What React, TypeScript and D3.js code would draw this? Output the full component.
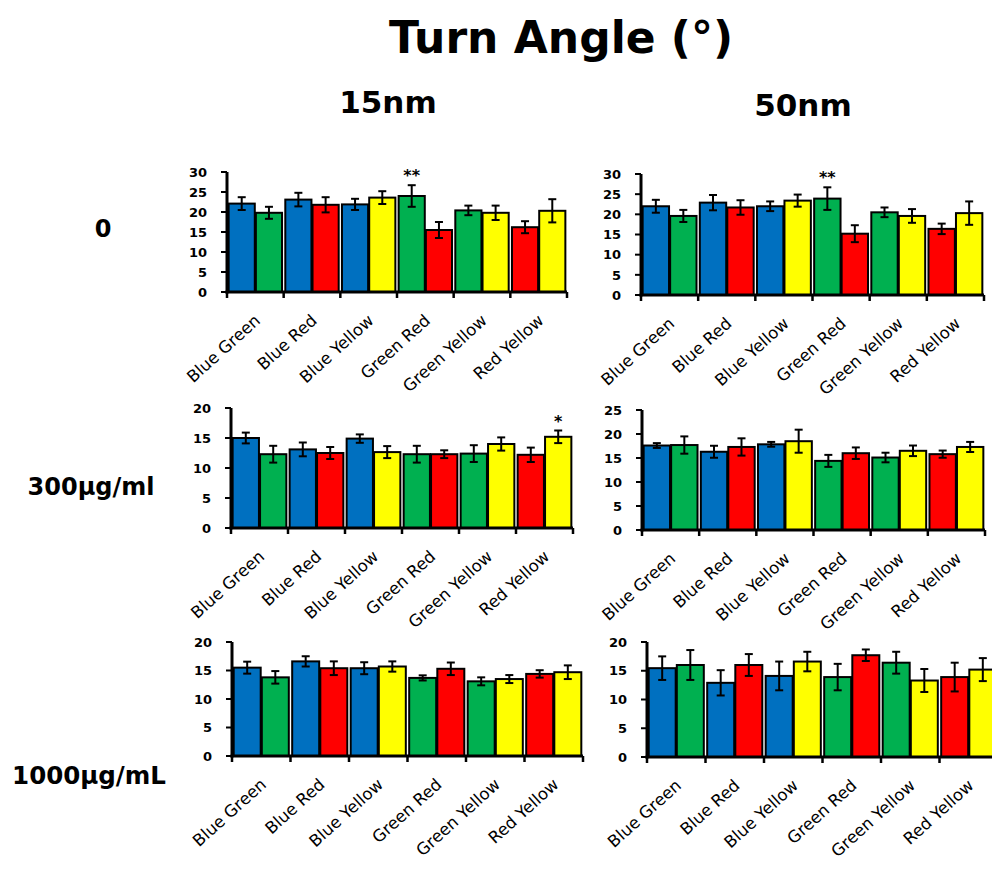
import React from "react";
import * as d3 from "d3";

const title = "Turn Angle (°)";
const columnTitles = ["15nm", "50nm"];
const rowTitles = ["0", "300µg/ml", "1000µg/mL"];
const categories = ["Blue Green", "Blue Red", "Blue Yellow", "Green Red", "Green Yellow", "Red Yellow"];

// means and SEMs, two bars per category (first colour, second colour)
const mean15_0 = [22.1, 19.8, 23.1, 21.8, 21.9, 23.6, 24.0, 15.5, 20.4, 19.8, 16.2, 20.3];
const err15_0 = [1.6, 1.5, 1.7, 1.9, 1.4, 1.6, 2.7, 2.0, 1.2, 1.8, 1.5, 2.9];
const mean50_0 = [22.0, 19.6, 22.9, 21.7, 22.0, 23.4, 23.9, 15.2, 20.5, 19.6, 16.4, 20.3];
const err50_0 = [1.6, 1.5, 1.9, 1.8, 1.2, 1.5, 2.8, 2.1, 1.2, 1.7, 1.3, 2.9];
const mean15_300 = [15.0, 12.3, 13.1, 12.5, 14.9, 12.65, 12.3, 12.3, 12.4, 14.0, 12.2, 15.2];
const err15_300 = [0.9, 1.4, 1.15, 1.0, 0.7, 1.0, 1.4, 0.65, 1.4, 1.1, 1.2, 1.05];
const mean50_300 = [17.6, 17.7, 16.3, 17.3, 17.85, 18.5, 14.4, 16.0, 15.1, 16.5, 15.8, 17.3];
const err50_300 = [0.5, 1.8, 1.25, 1.8, 0.5, 2.4, 1.25, 1.2, 1.0, 1.1, 0.75, 1.05];
const mean15_1000 = [15.5, 13.8, 16.6, 15.4, 15.4, 15.7, 13.7, 15.3, 13.1, 13.5, 14.4, 14.7];
const err15_1000 = [1.05, 1.1, 0.9, 1.2, 1.05, 0.9, 0.45, 1.1, 0.7, 0.7, 0.65, 1.2];
const mean50_1000 = [15.45, 16.0, 12.9, 16.0, 14.1, 16.6, 13.9, 17.7, 16.4, 13.3, 13.9, 15.2];
const err50_1000 = [2.05, 2.6, 2.2, 1.9, 2.5, 1.7, 2.3, 1.0, 1.9, 2.0, 2.5, 2.0];

const yMaxes = [30, 30, 20, 25, 20, 20];
const sigMarks = [
  { panel: 0, bar: 6, label: "**" },
  { panel: 1, bar: 6, label: "**" },
  { panel: 2, bar: 11, label: "*" },
];

const colorOf: Record<string, string> = {
  Blue: "#0070C0",
  Green: "#00B050",
  Red: "#FF0000",
  Yellow: "#FFFF00",
};

const panelsData = [
  { mean: mean15_0, err: err15_0 },
  { mean: mean50_0, err: err50_0 },
  { mean: mean15_300, err: err15_300 },
  { mean: mean50_300, err: err50_300 },
  { mean: mean15_1000, err: err15_1000 },
  { mean: mean50_1000, err: err50_1000 },
];

// layout (pixel frames of each panel: x0, x1, yBottom, yTop)
const frames = [
  { x0: 227, x1: 567, yb: 292, yt: 172 },
  { x0: 641, x1: 984, yb: 295, yt: 174 },
  { x0: 231, x1: 573, yb: 528, yt: 408 },
  { x0: 642, x1: 985, yb: 530, yt: 410 },
  { x0: 232, x1: 583, yb: 756, yt: 642 },
  { x0: 647, x1: 998, yb: 757, yt: 642 },
];

const FONT = "'Comic Sans MS', 'DejaVu Sans', sans-serif";

function Panel({ idx }: { idx: number }) {
  const f = frames[idx];
  const d = panelsData[idx];
  const x = d3.scaleBand<string>().domain(categories).range([f.x0, f.x1]).paddingInner(0).paddingOuter(0);
  const inner = d3.scaleBand<number>().domain([0, 1]).range([0, x.bandwidth()]).paddingInner(0.04).paddingOuter(0.06);
  const y = d3.scaleLinear().domain([0, yMaxes[idx]]).range([f.yb, f.yt]);
  const ticks = d3.range(0, yMaxes[idx] + 0.1, 5);
  const bw = inner.bandwidth();
  const cap = 4;
  const bars = categories.flatMap((c, ci) => {
    const cols = c.split(" ");
    return [0, 1].map((k) => {
      const i = ci * 2 + k;
      const bx = (x(c) as number) + (inner(k) as number);
      return { i, bx, color: colorOf[cols[k]], m: d.mean[i], e: d.err[i] };
    });
  });
  const boundaries = [...categories.map((c) => x(c) as number), f.x1];
  return (
    <g>
      {bars.map((b) => (
        <g key={b.i}>
          <rect x={b.bx} y={y(b.m)} width={bw} height={y(0) - y(b.m)} fill={b.color} stroke="#000" strokeWidth={2} />
          <line x1={b.bx + bw / 2} x2={b.bx + bw / 2} y1={y(b.m + b.e)} y2={y(b.m - b.e)} stroke="#000" strokeWidth={2} />
          <line x1={b.bx + bw / 2 - cap} x2={b.bx + bw / 2 + cap} y1={y(b.m + b.e)} y2={y(b.m + b.e)} stroke="#000" strokeWidth={2} />
          <line x1={b.bx + bw / 2 - cap} x2={b.bx + bw / 2 + cap} y1={y(b.m - b.e)} y2={y(b.m - b.e)} stroke="#000" strokeWidth={2} />
        </g>
      ))}
      {sigMarks
        .filter((s) => s.panel === idx)
        .map((s, k) => {
          const b = bars[s.bar];
          return (
            <text key={k} x={b.bx + bw / 2} y={y(b.m + b.e) - 4} textAnchor="middle" fontFamily={FONT} fontWeight="bold" fontSize={16}>
              {s.label}
            </text>
          );
        })}
      {/* y axis */}
      <line x1={f.x0} x2={f.x0} y1={f.yb + 1.5} y2={f.yt} stroke="#000" strokeWidth={3} />
      {ticks.map((t) => (
        <g key={t}>
          <line x1={f.x0 - 6} x2={f.x0} y1={y(t)} y2={y(t)} stroke="#000" strokeWidth={2} />
          <text x={f.x0 - 20} y={y(t)} dy="0.36em" textAnchor="end" fontFamily={FONT} fontWeight="bold" fontSize={13}>
            {t}
          </text>
        </g>
      ))}
      {/* x axis */}
      <line x1={f.x0 - 1.5} x2={f.x1} y1={f.yb} y2={f.yb} stroke="#000" strokeWidth={3} />
      {boundaries.map((bx, k) => (
        <line key={k} x1={bx} x2={bx} y1={f.yb} y2={f.yb + 6} stroke="#000" strokeWidth={2.5} />
      ))}
      {categories.map((c) => {
        const cx = (x(c) as number) + x.bandwidth() / 2 + 6;
        const cy = f.yb + 30;
        return (
          <text key={c} transform={`translate(${cx},${cy}) rotate(-42)`} textAnchor="end" fontFamily={FONT} fontSize={16.5}>
            {c}
          </text>
        );
      })}
    </g>
  );
}

export default function App() {
  return (
    <svg width={992} height={869} style={{ position: "absolute", left: 0, top: 0, background: "#fff" }}>
      <rect width={992} height={869} fill="#fff" />
      <text x={561} y={53} textAnchor="middle" fontFamily={FONT} fontWeight="bold" fontSize={44}>
        {title}
      </text>
      <text x={388} y={113} textAnchor="middle" fontFamily={FONT} fontWeight="bold" fontSize={31}>
        {columnTitles[0]}
      </text>
      <text x={803} y={116} textAnchor="middle" fontFamily={FONT} fontWeight="bold" fontSize={31}>
        {columnTitles[1]}
      </text>
      <text x={103} y={237} textAnchor="middle" fontFamily={FONT} fontWeight="bold" fontSize={24}>
        {rowTitles[0]}
      </text>
      <text x={91} y={495} textAnchor="middle" fontFamily={FONT} fontWeight="bold" fontSize={24}>
        {rowTitles[1]}
      </text>
      <text x={89} y={784} textAnchor="middle" fontFamily={FONT} fontWeight="bold" fontSize={24.5}>
        {rowTitles[2]}
      </text>
      {frames.map((_, i) => (
        <Panel key={i} idx={i} />
      ))}
    </svg>
  );
}
